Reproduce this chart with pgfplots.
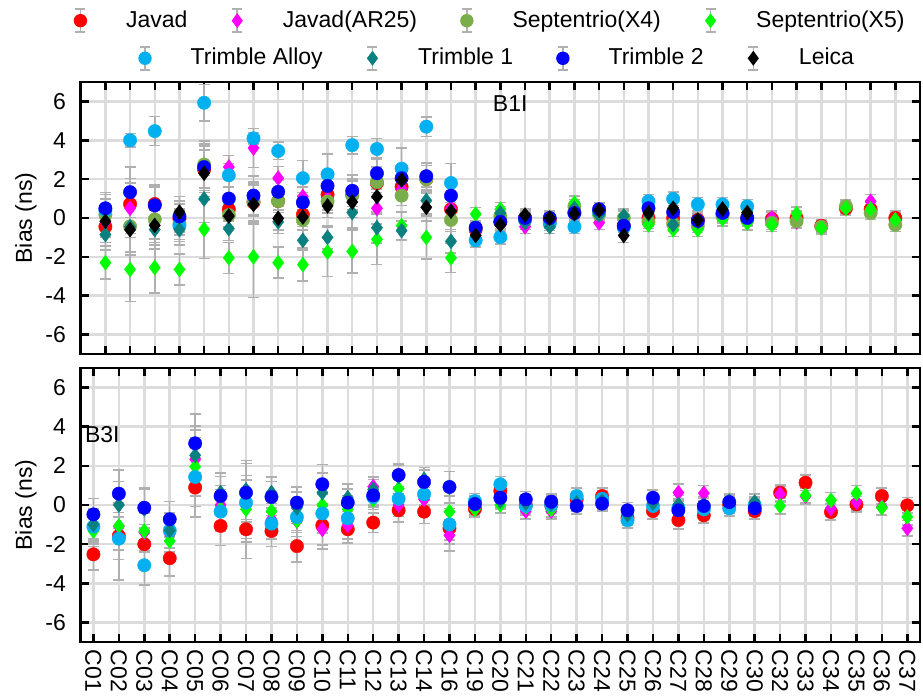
\documentclass[border=0pt]{standalone}
\usepackage{pgfplots}
\pgfplotsset{compat=1.18}
\usepackage{pgfplotstable}
\usepackage{fontspec}
\setmainfont{Liberation Sans}
\definecolor{cJa}{HTML}{FF0000}
\definecolor{cAR}{HTML}{FF00FF}
\definecolor{cXf}{HTML}{7AAE4B}
\definecolor{cXv}{HTML}{00FF00}
\definecolor{cAl}{HTML}{00B0F0}
\definecolor{cTa}{HTML}{0A8080}
\definecolor{cTb}{HTML}{0000FF}
\definecolor{cLe}{HTML}{000000}
\definecolor{errc}{HTML}{B0B0B0}
\definecolor{gridc}{HTML}{DCDCDC}

\tikzset{
  sJa/.style={mark=*, mark size=6.7pt, color=cJa},
  sAR/.style={mark=diamond*, mark size=7.5pt, color=cAR},
  sXf/.style={mark=*, mark size=6.7pt, color=cXf},
  sXv/.style={mark=diamond*, mark size=7.5pt, color=cXv},
  sAl/.style={mark=*, mark size=6.7pt, color=cAl},
  sTa/.style={mark=diamond*, mark size=7.5pt, color=cTa},
  sTb/.style={mark=*, mark size=6.7pt, color=cTb},
  sLe/.style={mark=diamond*, mark size=7.5pt, color=cLe},
}

\pgfplotsset{
  errst/.style={/pgfplots/error bars/y dir=both, /pgfplots/error bars/y explicit,
    /pgfplots/error bars/error mark=-,
    /pgfplots/error bars/error bar style={line width=1.5pt, color=errc},
    /pgfplots/error bars/error mark options={rotate=90, line width=1.5pt, color=errc, mark size=5.5pt}},
  legc/.style={legend image code/.code={
      \path[draw=none, fill=none] (-8pt,-12pt) rectangle (8pt,12pt);
      \draw[errc, line width=1.5pt, solid] (0pt,-11.5pt) -- (0pt,11.5pt)
        (-5pt,-11.5pt) -- (5pt,-11.5pt) (-5pt,11.5pt) -- (5pt,11.5pt);
      \fill[##1, draw=none] (0pt,0pt) circle[radius=6.7pt];
    }},
  legd/.style={legend image code/.code={
      \path[draw=none, fill=none] (-8pt,-12pt) rectangle (8pt,12pt);
      \draw[errc, line width=1.5pt, solid] (0pt,-11.5pt) -- (0pt,11.5pt)
        (-5pt,-11.5pt) -- (5pt,-11.5pt) (-5pt,11.5pt) -- (5pt,11.5pt);
      \fill[##1, draw=none] (0pt,7.5pt) -- (5.6pt,0pt) -- (0pt,-7.5pt) -- (-5.6pt,0pt) -- cycle;
    }},
  panel/.style={scale only axis, width=839.3pt,
    ymin=-7, ymax=7, ytick={-6,-4,...,6},
    xtick={0,...,32},
    grid=major, major grid style={line width=2.5pt, color=gridc},
    axis line style={line width=2.7pt},
    tick style={line width=2.5pt, black},
    major tick length=8pt, tick align=inside,
    /pgf/number format/assume math mode=true,
    yticklabel style={xshift=-7pt},
    ylabel={Bias (ns)},
    ylabel style={at={(axis description cs:-0.0652,0.5)}, anchor=center},
  },
  legrow/.style={hide axis, scale only axis, width=10pt, height=10pt,
    xmin=0, xmax=1, ymin=0, ymax=1,
    legend style={at={(0.5,0.5)}, anchor=center, draw=none, fill=none,
      legend columns=-1,
      /tikz/every even column/.append style={column sep=39.7pt}}},
}

\pgfplotstableread{
x ja ar x4 x5 al t1 t2 le e ea e5
0 -0.45 -0.20 0.17 -2.30 0.40 -0.85 0.50 -0.17 0.80 0.80 0.85
1 0.72 0.50 -0.43 -2.65 4.00 -0.45 1.33 -0.60 1.30 0.35 1.65
2 0.72 0.60 -0.07 -2.55 4.47 -0.60 0.65 -0.38 1.00 0.75 1.30
3 -0.05 -0.10 -0.30 -2.65 -0.40 -0.60 0.08 0.30 0.80 0.80 0.80
4 2.50 2.50 2.75 -0.58 5.93 0.98 2.62 2.30 1.20 0.95 1.50
5 0.45 2.62 0.15 -2.05 2.20 -0.55 1.00 0.10 0.60 0.60 0.80
6 0.80 3.60 0.85 -2.00 4.10 0.75 1.15 0.70 1.00 0.30 2.10
7 0.87 2.05 0.87 -2.30 3.45 -0.20 1.35 -0.02 0.60 0.45 0.80
8 0.17 1.10 -0.10 -2.40 2.05 -1.15 0.80 0.05 0.50 0.90 0.85
9 1.20 1.00 0.85 -1.75 2.25 -1.00 1.65 0.62 0.60 1.05 1.25
10 1.20 1.10 1.15 -1.72 3.75 0.28 1.40 0.82 0.80 0.45 1.10
11 1.80 0.50 1.85 -1.10 3.55 -0.50 2.30 1.10 0.80 0.55 1.30
12 1.60 1.50 1.15 -0.40 2.54 -0.65 2.05 1.95 0.50 1.05 0.70
13 2.00 2.10 2.00 -1.00 4.70 0.90 2.15 0.55 0.70 0.50 1.10
14 0.45 0.50 -0.10 -2.05 1.80 -1.20 1.15 0.35 0.60 1.00 0.75
15 -0.60 -0.70 -0.50 0.20 -1.15 -0.60 -0.50 -0.90 0.35 0.35 0.35
16 -0.20 -0.30 0.10 0.45 -0.98 0.25 -0.20 -0.35 0.35 0.35 0.35
17 0.00 -0.45 -0.10 0.10 -0.10 -0.25 0.00 0.15 0.35 0.35 0.35
18 -0.10 -0.20 -0.20 -0.10 -0.30 -0.45 0.00 0.00 0.35 0.35 0.35
19 0.30 0.20 0.60 0.77 -0.45 0.50 0.25 0.22 0.35 0.35 0.35
20 0.30 -0.25 0.20 0.30 0.30 0.15 0.45 0.40 0.35 0.35 0.35
21 -0.40 -0.50 0.00 0.10 -0.50 0.10 -0.40 -0.90 0.35 0.35 0.35
22 0.00 0.10 -0.20 -0.35 0.86 0.20 0.50 0.26 0.35 0.35 0.35
23 0.00 0.20 -0.30 -0.60 0.98 -0.35 0.30 0.50 0.35 0.35 0.35
24 -0.10 -0.40 -0.40 -0.60 0.70 -0.20 -0.15 -0.10 0.35 0.35 0.35
25 0.20 0.30 0.10 -0.05 0.70 0.40 0.26 0.46 0.35 0.35 0.35
26 0.00 0.10 -0.10 -0.26 0.60 0.30 0.00 0.26 0.35 0.35 0.35
27 -0.05 0.00 -0.25 -0.35 nan nan nan nan 0.35 0.35 0.35
28 0.00 -0.20 -0.17 0.22 nan nan nan nan 0.35 0.35 0.35
29 -0.40 -0.45 -0.45 -0.52 nan nan nan nan 0.30 0.30 0.30
30 0.50 0.55 0.60 0.50 nan nan nan nan 0.35 0.35 0.35
31 0.45 0.86 0.26 0.46 nan nan nan nan 0.35 0.35 0.35
32 0.00 -0.15 -0.35 -0.09 nan nan nan nan 0.35 0.35 0.35
}\tabA

\pgfplotstableread{
x ja ar x5 al t1 t2 e ea
0 -2.52 -1.20 -1.33 -1.10 -1.00 -0.48 0.80 0.80
1 -1.58 -1.10 -1.07 -1.72 0.00 0.58 1.20 2.10
2 -2.00 -1.40 -1.33 -3.08 -0.20 -0.14 1.00 1.00
3 -2.72 -1.50 -1.84 -1.30 -1.30 -0.73 0.90 0.90
4 0.89 2.33 1.96 1.43 2.54 3.15 1.50 1.50
5 -1.07 0.00 -0.20 -0.34 0.63 0.46 1.00 1.00
6 -1.24 0.00 -0.22 0.12 0.77 0.63 1.50 2.00
7 -1.33 -0.73 -0.31 -0.95 0.63 0.41 0.80 0.80
8 -2.10 -0.82 -0.80 -0.61 -0.14 0.12 0.80 0.80
9 -1.04 -1.24 0.00 -0.43 0.63 1.06 1.00 1.00
10 -1.24 -1.04 -0.22 -0.68 0.37 0.12 0.70 0.70
11 -0.90 0.94 0.26 0.40 0.80 0.49 0.50 0.50
12 -0.27 0.00 0.83 0.32 1.45 1.53 0.60 0.60
13 -0.34 0.29 0.60 0.55 1.31 1.18 0.60 0.60
14 -1.19 -1.55 -0.34 -0.99 0.90 0.92 0.80 0.80
15 -0.20 -0.10 -0.22 0.20 0.05 0.05 0.40 0.40
16 0.72 0.30 0.00 1.06 0.20 0.37 0.40 0.40
17 0.00 -0.31 -0.10 -0.05 0.10 0.29 0.40 0.40
18 0.00 -0.31 -0.22 0.00 0.05 0.17 0.40 0.40
19 0.29 0.20 0.10 0.46 0.10 -0.05 0.40 0.40
20 0.46 0.10 0.10 0.32 0.20 0.07 0.40 0.40
21 -0.65 -0.65 -0.50 -0.78 -0.50 -0.27 0.40 0.40
22 -0.31 0.00 0.00 -0.05 0.10 0.37 0.40 0.40
23 -0.77 0.63 -0.20 -0.15 0.03 -0.27 0.45 0.45
24 -0.53 0.60 -0.20 -0.22 0.00 -0.05 0.40 0.40
25 0.00 0.05 0.00 -0.17 0.20 0.15 0.40 0.40
26 -0.31 -0.10 0.00 0.00 0.15 -0.17 0.40 0.40
27 0.63 0.55 -0.05 nan nan nan 0.40 0.40
28 1.14 0.45 0.49 nan nan nan 0.40 0.40
29 -0.36 -0.17 0.24 nan nan nan 0.40 0.40
30 0.03 0.15 0.60 nan nan nan 0.40 0.40
31 0.46 -0.10 -0.14 nan nan nan 0.40 0.40
32 -0.02 -1.19 -0.61 nan nan nan 0.40 0.40
}\tabB

\begin{document}
\fontsize{23}{27}\selectfont
\begin{tikzpicture}
\path[use as bounding box] (0pt,0pt) rectangle (923pt,700pt);

% ---- top panel B1I
\begin{axis}[panel, height=272pt, at={(80.7pt,346pt)}, anchor=south west,
  xmin=-1, xmax=33, xticklabels={}]
\addplot[only marks, sJa, errst] table[x=x, y=ja, y error=e]{\tabA};
\addplot[only marks, sAR, errst] table[x=x, y=ar, y error=e]{\tabA};
\addplot[only marks, sXf, errst] table[x=x, y=x4, y error=e]{\tabA};
\addplot[only marks, sXv, errst] table[x=x, y=x5, y error=e5]{\tabA};
\addplot[only marks, sAl, errst] table[x=x, y=al, y error=ea]{\tabA};
\addplot[only marks, sTa, errst] table[x=x, y=t1, y error=e]{\tabA};
\addplot[only marks, sTb, errst] table[x=x, y=t2, y error=e]{\tabA};
\addplot[only marks, sLe, errst] table[x=x, y=le, y error=e]{\tabA};
\node at (axis cs:16.4,5.9) {B1I};
\end{axis}

% ---- bottom panel B3I
\begin{axis}[panel, height=274pt, at={(80.7pt,58pt)}, anchor=south west,
  xmin=-0.5, xmax=32.5,
  xticklabels={C01,C02,C03,C04,C05,C06,C07,C08,C09,C10,C11,C12,C13,C14,C16,C19,C20,C21,C22,C23,C24,C25,C26,C27,C28,C29,C30,C32,C33,C34,C35,C36,C37},
  xticklabel style={rotate=-90, anchor=west}]
\addplot[only marks, sJa, errst] table[x=x, y=ja, y error=e]{\tabB};
\addplot[only marks, sAR, errst] table[x=x, y=ar, y error=e]{\tabB};
\addplot[only marks, sXv, errst] table[x=x, y=x5, y error=e]{\tabB};
\addplot[only marks, sAl, errst] table[x=x, y=al, y error=ea]{\tabB};
\addplot[only marks, sTa, errst] table[x=x, y=t1, y error=e]{\tabB};
\addplot[only marks, sTb, errst] table[x=x, y=t2, y error=e]{\tabB};
\node at (axis cs:0.35,3.6) {B3I};
\end{axis}

% ---- legend rows
\begin{axis}[legrow, at={(489.5pt,679.3pt)}, anchor=center]
\addlegendimage{sJa, legc}\addlegendentry{\hspace*{35.7pt}Javad}
\addlegendimage{sAR, legd}\addlegendentry{\hspace*{35.7pt}Javad(AR25)}
\addlegendimage{sXf, legc}\addlegendentry{\hspace*{35.7pt}Septentrio(X4)}
\addlegendimage{sXv, legd}\addlegendentry{\hspace*{35.7pt}Septentrio(X5)}
\end{axis}
\begin{axis}[legrow, at={(496.5pt,641.7pt)}, anchor=center]
\addlegendimage{sAl, legc}\addlegendentry{\hspace*{35.7pt}Trimble Alloy}
\addlegendimage{sTa, legd}\addlegendentry{\hspace*{35.7pt}Trimble 1}
\addlegendimage{sTb, legc}\addlegendentry{\hspace*{35.7pt}Trimble 2}
\addlegendimage{sLe, legd}\addlegendentry{\hspace*{35.7pt}Leica}
\end{axis}
\end{tikzpicture}
\end{document}
